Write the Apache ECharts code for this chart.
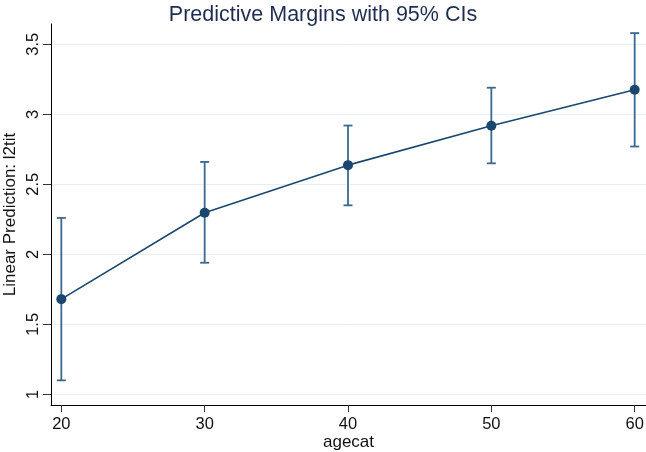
<!DOCTYPE html>
<html>
<head>
<meta charset="utf-8">
<script src="https://cdn.jsdelivr.net/npm/echarts@6/dist/echarts.min.js"></script>
<style>html,body{margin:0;padding:0;background:#fff;}#c{width:646px;height:452px;}</style>
</head>
<body>
<div id="c"></div>
<script>
const ages = [20, 30, 40, 50, 60];
const margins = [1.68, 2.297, 2.637, 2.918, 3.175];
const ciLower = [1.10, 1.94, 2.35, 2.65, 2.77];
const ciUpper = [2.26, 2.66, 2.92, 3.19, 3.58];
const yTicks = [1, 1.5, 2, 2.5, 3, 3.5];
const xTicks = [20, 30, 40, 50, 60];

const FONT = '"Liberation Sans", Arial, sans-serif';
const LINE = '#1a476f';
const BAR = '#3a6891';

const chart = echarts.init(document.getElementById('c'), null, {renderer: 'canvas'});
chart.setOption({
  animation: false,
  backgroundColor: '#fff',
  title: {
    text: 'Predictive Margins with 95% CIs',
    left: 'center', top: -1,
    textStyle: {fontFamily: FONT, fontSize: 21.5, fontWeight: 'normal', color: '#1e2d4f'}
  },
  grid: {left: 51, right: 0, top: 24, bottom: 47, containLabel: false, outerBoundsMode: 'none'},
  xAxis: {
    type: 'value', min: 19.28, max: 60.79,
    name: 'agecat', nameLocation: 'middle', nameGap: 29, nameMoveOverlap: false,
    nameTextStyle: {fontFamily: FONT, fontSize: 17, color: '#111'},
    axisLine: {show: true, lineStyle: {color: '#000', width: 1}},
    axisTick: {show: true, length: 7, lineStyle: {color: '#333'}, customValues: xTicks},
    axisLabel: {customValues: xTicks, fontFamily: FONT, fontSize: 16.5, color: '#111', margin: 11},
    splitLine: {show: false}
  },
  yAxis: {
    type: 'value', min: 0.924, max: 3.645,
    name: 'Linear Prediction: l2tit', nameLocation: 'middle', nameGap: 32, nameRotate: 90, nameMoveOverlap: false,
    nameTextStyle: {fontFamily: FONT, fontSize: 17, color: '#111'},
    axisLine: {show: true, lineStyle: {color: '#000', width: 1}},
    axisTick: {show: true, length: 8, lineStyle: {color: '#333'}, customValues: yTicks},
    axisLabel: {customValues: yTicks, rotate: 90, fontFamily: FONT, fontSize: 16.5, color: '#111', margin: 9},
    splitLine: {show: true, lineStyle: {color: '#e6f0f2', width: 1}}
  },
  series: [
    {
      type: 'custom',
      data: ages.map((a, i) => [a, ciLower[i], ciUpper[i]]),
      renderItem: function (params, api) {
        const x = api.value(0);
        const lo = api.coord([x, api.value(1)]);
        const hi = api.coord([x, api.value(2)]);
        const hw = 4.5;
        const st = {stroke: BAR, lineWidth: 1.8};
        return {
          type: 'group',
          children: [
            {type: 'line', shape: {x1: lo[0], y1: lo[1], x2: hi[0], y2: hi[1]}, style: st},
            {type: 'line', shape: {x1: lo[0] - hw, y1: lo[1], x2: lo[0] + hw, y2: lo[1]}, style: st},
            {type: 'line', shape: {x1: hi[0] - hw, y1: hi[1], x2: hi[0] + hw, y2: hi[1]}, style: st}
          ]
        };
      },
      z: 2
    },
    {
      type: 'line',
      data: ages.map((a, i) => [a, margins[i]]),
      symbol: 'circle', symbolSize: 10,
      lineStyle: {color: LINE, width: 1.6},
      itemStyle: {color: LINE},
      z: 3
    }
  ]
});
</script>
</body>
</html>
